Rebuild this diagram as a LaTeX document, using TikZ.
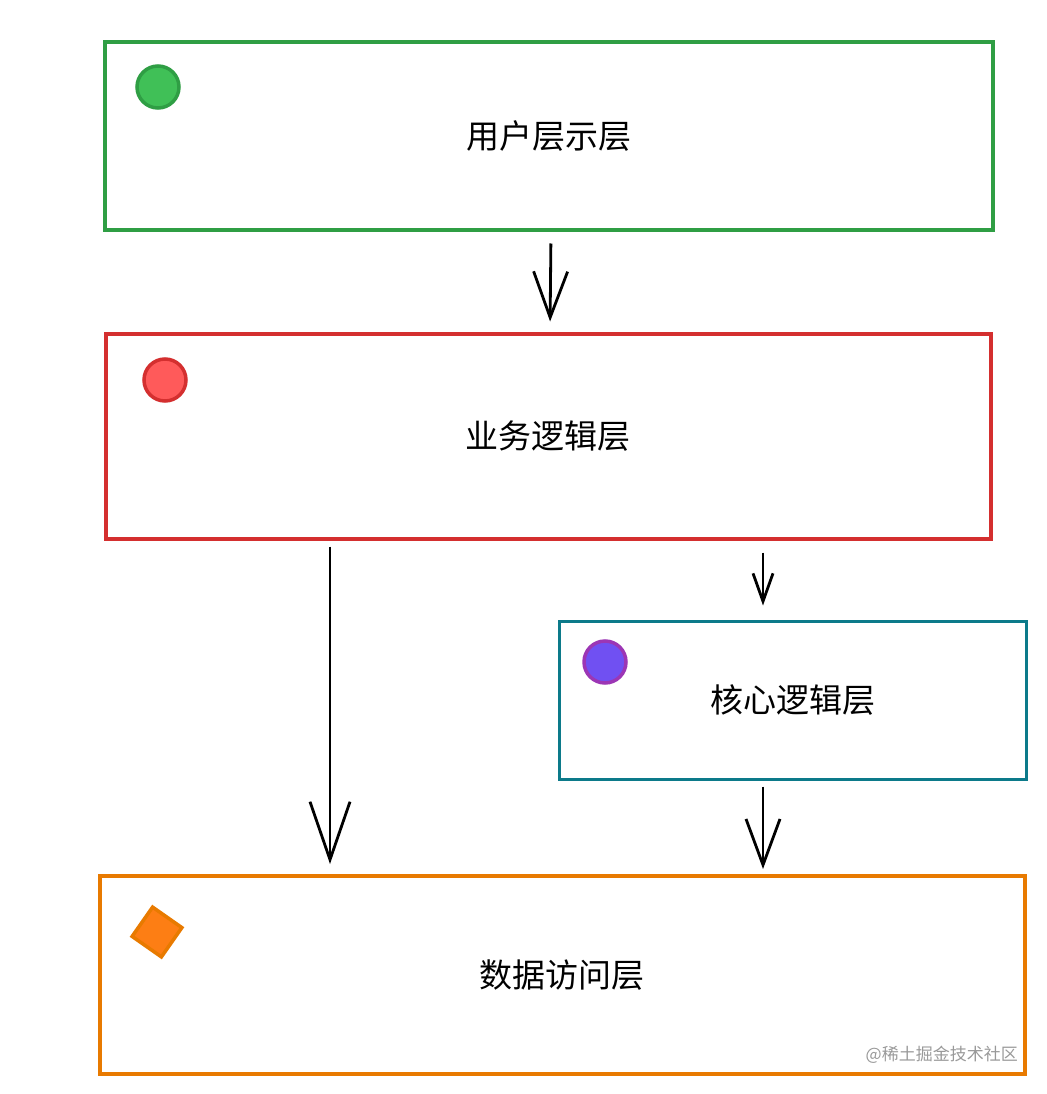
\documentclass[tikz,border=0pt]{standalone}
\usepackage{fontspec}
\newfontfamily\cjk{Noto Sans CJK SC}
\usetikzlibrary{positioning,arrows.meta,shapes.geometric,calc}
\definecolor{mygreen}{HTML}{2F9E44}
\definecolor{mygreenfill}{HTML}{40C057}
\definecolor{myred}{HTML}{D42F2F}
\definecolor{myredfill}{HTML}{FF5A5A}
\definecolor{myteal}{HTML}{0C7A8A}
\definecolor{myviolet}{HTML}{9C36B5}
\definecolor{mypurplefill}{HTML}{7050F2}
\definecolor{myorange}{HTML}{E87A00}
\definecolor{myorangefill}{HTML}{FD7E14}

\begin{document}
\begin{tikzpicture}[x=1pt,y=-1pt,
  layer/.style={draw=#1,rectangle,line width=4pt,text=black,font=\cjk\fontsize{33}{36}\selectfont},
  dot/.style={circle,minimum size=42pt,inner sep=0pt,line width=3.5pt},
  arr/.style={-{Straight Barb[length=46pt,width=34pt,line width=2.8pt]},line width=2.8pt,black}
]
\useasboundingbox (0,0) rectangle (1046,1094);

% the layers
\node[layer=mygreen,minimum width=888pt,minimum height=187pt] (ui) at (549,136) {用户层示层};
\node[layer=myred,minimum width=885pt,minimum height=205pt] (biz) at (548,436) {业务逻辑层};
\node[layer=myteal,line width=3pt,minimum width=467pt,minimum height=158pt] (core) at (793,700) {核心逻辑层};
\node[layer=myorange,minimum width=925pt,minimum height=198pt] (data) at (562,975) {数据访问层};

% the markers
\node[dot,draw=mygreen,fill=mygreenfill] (m1) at (158,87) {};
\node[dot,draw=myred,fill=myredfill] (m2) at (165,380) {};
\node[dot,draw=myviolet,fill=mypurplefill] (m3) at (605,662) {};
\node[diamond,rotate=10,minimum size=52pt,inner sep=0pt,line width=3.5pt,draw=myorange,fill=myorangefill] (m4) at (157,932) {};

% the arrows
\draw[arr,shorten <=12pt,shorten >=10pt] ([xshift=2pt]ui.south) -- ([xshift=2pt]biz.north);
\draw[arr,shorten <=6pt,shorten >=10pt,-{Straight Barb[length=58pt,width=40pt,line width=2.8pt]}] ([xshift=-218pt]biz.south) -- ([xshift=-218pt]biz.south |- data.north);
\draw[arr,shorten <=12pt,shorten >=14pt,-{Straight Barb[length=28pt,width=20pt,line width=2.8pt]}] ([xshift=-30pt]core.north |- biz.south) -- ([xshift=-30pt]core.north);
\draw[arr,shorten <=6pt,shorten >=5pt] ([xshift=-30pt]core.south) -- ([xshift=-30pt]core.south |- data.north);

% the watermark
\node[font=\cjk\fontsize{17}{19}\selectfont,text=black!40,anchor=east,inner sep=0pt] (mark) at (1018,1055) {@稀土掘金技术社区};
\end{tikzpicture}
\end{document}
